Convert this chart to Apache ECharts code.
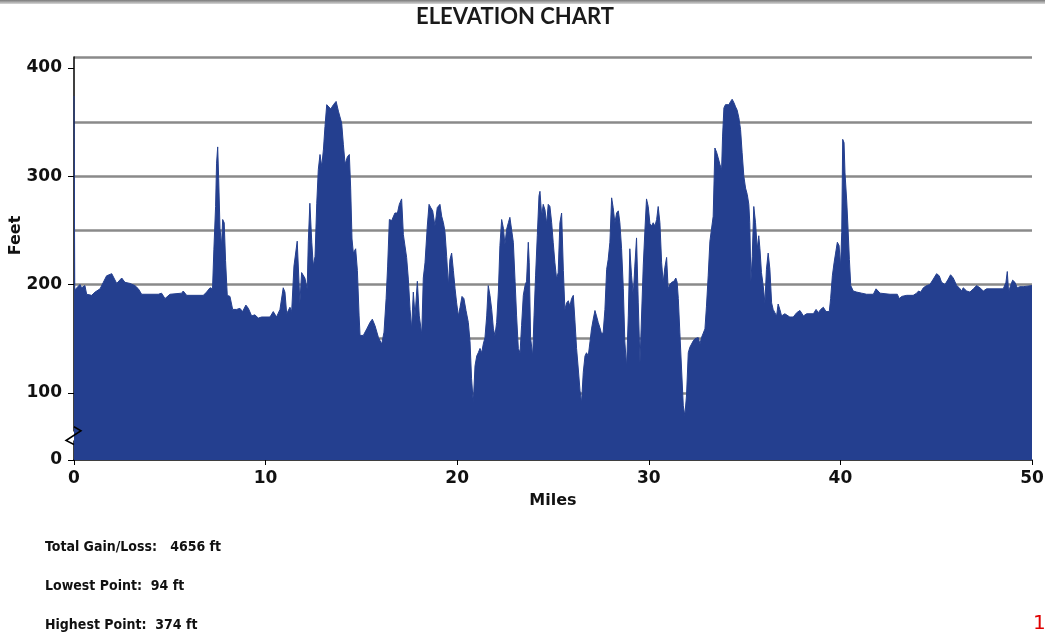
<!DOCTYPE html>
<html>
<head>
<meta charset="utf-8">
<title>Elevation Chart</title>
<script src="https://cdn.jsdelivr.net/npm/echarts@6.0.0/dist/echarts.min.js"></script>
<style>
  html, body { margin: 0; padding: 0; background: #fff; }
  #chart { width: 1045px; height: 643px; }
</style>
</head>
<body>
<div id="chart"></div>
<script>
// elevation profile: distance (miles) and height (feet)
const miles = [
  0, 0.04, 0.10, 0.31, 0.40, 0.57, 0.66, 0.92, 1.10, 1.36, 1.53, 1.70, 1.97, 2.23, 2.49, 2.66, 2.92, 3.18, 3.36, 3.53,
  4.40, 4.57, 4.75, 5.01, 5.62, 5.70, 5.88, 6.75, 6.92, 7.10, 7.23, 7.30, 7.39, 7.44, 7.50, 7.55, 7.62, 7.70, 7.76, 7.84,
  7.91, 8.00, 8.14, 8.28, 8.49, 8.66, 8.80, 8.97, 9.10, 9.27, 9.44, 9.62, 9.79, 10.23, 10.40, 10.57, 10.75, 10.92, 11.01, 11.10,
  11.18, 11.27, 11.36, 11.48, 11.58, 11.65, 11.72, 11.79, 11.88, 11.97, 12.05, 12.17, 12.23, 12.31, 12.41, 12.49, 12.58, 12.67, 12.75, 12.84,
  12.93, 13.02, 13.10, 13.19, 13.28, 13.40, 13.54, 13.68, 13.80, 13.97, 14.06, 14.15, 14.27, 14.37, 14.44, 14.51, 14.58, 14.70, 14.79, 14.88,
  14.93, 15.10, 15.28, 15.45, 15.57, 15.71, 15.89, 16.06, 16.18, 16.29, 16.37, 16.46, 16.58, 16.75, 16.88, 16.98, 17.10, 17.19, 17.36, 17.45,
  17.54, 17.62, 17.71, 17.80, 17.92, 18.02, 18.15, 18.23, 18.32, 18.44, 18.53, 18.62, 18.72, 18.84, 18.96, 19.10, 19.19, 19.28, 19.36, 19.45,
  19.54, 19.62, 19.71, 19.80, 19.89, 19.97, 20.06, 20.15, 20.25, 20.35, 20.46, 20.58, 20.67, 20.75, 20.84, 20.93, 21.02, 21.10, 21.19, 21.28,
  21.36, 21.45, 21.54, 21.62, 21.71, 21.80, 21.89, 21.97, 22.06, 22.15, 22.23, 22.32, 22.41, 22.49, 22.58, 22.67, 22.75, 22.84, 22.93, 23.02,
  23.10, 23.19, 23.28, 23.36, 23.45, 23.54, 23.62, 23.71, 23.76, 23.83, 23.94, 24.01, 24.09, 24.18, 24.27, 24.32, 24.41, 24.49, 24.58, 24.67,
  24.75, 24.84, 24.93, 25.01, 25.10, 25.19, 25.27, 25.36, 25.45, 25.54, 25.62, 25.71, 25.80, 25.88, 25.97, 26.06, 26.14, 26.23, 26.32, 26.41,
  26.49, 26.58, 26.67, 26.75, 26.84, 26.93, 27.01, 27.10, 27.19, 27.27, 27.36, 27.45, 27.54, 27.62, 27.71, 27.80, 27.88, 27.97, 28.06, 28.14,
  28.23, 28.32, 28.41, 28.49, 28.58, 28.67, 28.75, 28.84, 28.93, 29.01, 29.10, 29.19, 29.27, 29.36, 29.45, 29.54, 29.62, 29.71, 29.80, 29.88,
  29.97, 30.06, 30.14, 30.23, 30.32, 30.41, 30.49, 30.58, 30.67, 30.75, 30.84, 30.93, 31.01, 31.10, 31.19, 31.31, 31.41, 31.48, 31.54, 31.62,
  31.71, 31.80, 31.88, 31.97, 32.06, 32.14, 32.23, 32.32, 32.41, 32.49, 32.58, 32.67, 32.75, 32.84, 32.93, 33.01, 33.10, 33.19, 33.27, 33.36,
  33.45, 33.54, 33.62, 33.71, 33.80, 33.85, 33.92, 34.00, 34.09, 34.18, 34.27, 34.35, 34.44, 34.53, 34.61, 34.70, 34.79, 34.87, 34.96, 35.05,
  35.14, 35.22, 35.27, 35.33, 35.40, 35.48, 35.57, 35.66, 35.74, 35.80, 35.88, 35.97, 36.06, 36.14, 36.23, 36.32, 36.41, 36.49, 36.58, 36.67,
  36.75, 36.84, 36.93, 37.01, 37.10, 37.19, 37.36, 37.54, 37.72, 37.89, 38.07, 38.24, 38.59, 38.73, 38.85, 38.97, 39.11, 39.25, 39.42, 39.49,
  39.58, 39.67, 39.75, 39.84, 39.93, 40.01, 40.07, 40.12, 40.19, 40.24, 40.33, 40.40, 40.47, 40.54, 40.67, 40.85, 41.11, 41.37, 41.72, 41.86,
  41.96, 42.07, 42.59, 42.97, 43.07, 43.20, 43.46, 43.80, 43.98, 44.08, 44.19, 44.33, 44.50, 44.67, 44.85, 45.02, 45.16, 45.28, 45.46, 45.63,
  45.75, 45.89, 46.07, 46.20, 46.33, 46.41, 46.59, 46.76, 46.94, 47.11, 47.28, 47.46, 47.63, 48.50, 48.64, 48.71, 48.78, 48.88, 48.99, 49.11,
  49.23, 49.37, 49.54, 50.00
];
const feet = [
  374, 195, 195, 200, 197, 199, 191, 190, 193, 196, 202, 208, 210, 201, 206, 202, 201, 199, 196, 191,
  191, 192, 187, 191, 192, 194, 190, 190, 193, 197, 196, 232, 272, 312, 327, 298, 252, 236, 260, 257,
  222, 190, 189, 177, 177, 178, 175, 181, 178, 171, 172, 169, 170, 170, 175, 170, 177, 197, 193, 173,
  172, 179, 175, 217, 217, 240, 240, 183, 211, 211, 206, 196, 240, 275, 239, 217, 226, 275, 306, 320,
  309, 325, 346, 366, 366, 362, 366, 369, 360, 349, 329, 311, 318, 320, 289, 242, 229, 233, 213, 171,
  153, 153, 159, 165, 168, 162, 151, 145, 156, 187, 217, 260, 259, 266, 266, 274, 279, 246, 225, 205,
  177, 159, 193, 171, 203, 171, 154, 206, 220, 254, 274, 271, 268, 254, 271, 274, 263, 257, 249, 226,
  199, 223, 229, 213, 196, 183, 171, 179, 189, 187, 176, 165, 147, 113, 91, 125, 134, 137, 141, 137,
  145, 151, 171, 199, 190, 177, 159, 153, 165, 194, 236, 260, 252, 237, 251, 257, 262, 263, 239, 203,
  171, 141, 137, 162, 190, 199, 203, 239, 220, 151, 134, 171, 208, 245, 282, 286, 263, 274, 269, 256,
  274, 272, 257, 239, 220, 205, 211, 257, 266, 213, 177, 183, 185, 180, 187, 190, 168, 141, 122, 102,
  91, 119, 134, 137, 134, 147, 159, 168, 176, 171, 165, 160, 154, 156, 177, 214, 223, 239, 280, 271,
  257, 266, 268, 257, 233, 196, 147, 124, 171, 233, 208, 190, 217, 243, 183, 128, 128, 217, 251, 279,
  272, 256, 254, 257, 254, 260, 272, 257, 220, 202, 216, 225, 196, 200, 202, 203, 206, 202, 187, 156,
  122, 88, 79, 98, 137, 142, 145, 148, 150, 151, 151, 145, 151, 151, 159, 180, 208, 240, 239, 263,
  326, 322, 317, 311, 306, 337, 363, 366, 367, 366, 369, 371, 368, 364, 361, 354, 343, 322, 300, 289,
  283, 274, 257, 203, 226, 272, 257, 233, 245, 233, 211, 199, 183, 214, 229, 214, 183, 177, 174, 171,
  182, 177, 171, 170, 173, 173, 170, 170, 174, 176, 171, 173, 173, 177, 174, 177, 179, 175, 175, 187,
  208, 220, 229, 239, 236, 217, 248, 334, 331, 303, 277, 251, 223, 199, 194, 193, 192, 191, 191, 196,
  197, 192, 191, 191, 187, 189, 190, 190, 192, 194, 193, 197, 199, 200, 205, 210, 208, 202, 200, 205,
  209, 206, 199, 197, 194, 197, 194, 193, 196, 199, 197, 194, 196, 196, 202, 212, 193, 199, 204, 202,
  197, 198, 198, 199
];
const yLabelValues = [0, 100, 200, 300, 400];
const yGridValues = [100, 150, 200, 250, 300, 350, 410];
const yBreak = [18, 65];
const summary = ["Total Gain/Loss:   4656 ft", "Lowest Point:  94 ft", "Highest Point:  374 ft"];

let myChart = echarts.init(document.getElementById("chart"));

let seriesData = miles.map((m, i) => [m, feet[i]]);
let blue = "#243f8f";
let labelFont = {
  color: "#111",
  fontFamily: "DejaVu Sans",
  fontWeight: "bold",
  fontSize: 17,
};

let yBase = {
  type: "value",
  min: 0,
  max: 410,
  breaks: [{ start: yBreak[0], end: yBreak[1], gap: 9 }],
  breakArea: { show: false },
};

let option = {
  animation: false,
  title: {
    text: "ELEVATION CHART",
    left: 411,
    top: 1,
    textStyle: {
      color: "#1a1a1a",
      fontFamily: "Lato",
      fontWeight: "bold",
      fontSize: 22,
    },
  },
  grid: {
    left: 74,
    right: 13,
    top: 57,
    bottom: 183,
    outerBoundsMode: "none",
    containLabel: false,
  },
  xAxis: {
    type: "value",
    min: 0,
    max: 50,
    interval: 10,
    name: "Miles",
    nameLocation: "middle",
    nameGap: 33,
    nameTextStyle: Object.assign({}, labelFont, { fontSize: 16 }),
    axisLine: { lineStyle: { color: "#000", width: 1.5 } },
    axisTick: { length: 5, lineStyle: { color: "#000" } },
    axisLabel: Object.assign({ margin: 10 }, labelFont),
    splitLine: { show: false },
  },
  yAxis: [
    Object.assign({}, yBase, {
      name: "Feet",
      nameLocation: "middle",
      nameGap: 50,
      nameMoveOverlap: false,
      nameTextStyle: Object.assign({}, labelFont, { fontSize: 16, padding: [0, 0, 0, 46] }),
      axisLine: { show: true, lineStyle: { color: "#000", width: 1.5 } },
      axisTick: { show: true, length: 6, customValues: yLabelValues, lineStyle: { color: "#000" } },
      axisLabel: Object.assign({ margin: 12, customValues: yLabelValues }, labelFont),
      splitLine: { show: false },
    }),
    // second axis only carries the grey grid lines
    Object.assign({}, yBase, {
      position: "left",
      axisLine: { show: false },
      axisTick: { show: false, customValues: yGridValues },
      axisLabel: { show: false },
      splitLine: { show: true, lineStyle: { color: "#8a8a8a", width: 2.5 } },
    }),
  ],
  graphic: [
    {
      type: "rect",
      left: 0,
      top: 0,
      shape: { width: 1045, height: 4 },
      style: {
        fill: new echarts.graphic.LinearGradient(0, 0, 0, 1, [
          { offset: 0, color: "#7a7a7a" },
          { offset: 1, color: "#d8d8d8" },
        ]),
      },
    },
    {
      type: "text",
      left: 1033,
      top: 614,
      style: { text: "1", fill: "#e00000", font: "20px 'DejaVu Sans'" },
    },
  ].concat(
    summary.map((t, i) => ({
      type: "text",
      left: 45,
      top: 540 + i * 39,
      style: {
        text: t,
        fill: "#111",
        font: "bold 14px 'Liberation Sans Narrow', 'DejaVu Sans Condensed', sans-serif",
      },
    }))
  ),
  series: [
    {
      name: "Elevation",
      type: "line",
      yAxisIndex: 0,
      data: seriesData,
      symbol: "none",
      sampling: null,
      lineStyle: { color: blue, width: 1 },
      areaStyle: { color: blue, opacity: 1 },
      z: 3,
    },
  ],
};

myChart.setOption(option);

// little zigzag on the y axis where the scale is broken
let pLow = myChart.convertToPixel({ gridIndex: 0 }, [0, yBreak[0]]);
let pHigh = myChart.convertToPixel({ gridIndex: 0 }, [0, yBreak[1]]);
if (pLow && pHigh) {
  let x0 = pLow[0];
  let yl = pLow[1];
  let yh = pHigh[1];
  myChart.setOption({
    graphic: option.graphic.concat([
      {
        type: "polyline",
        z: 50,
        shape: {
          points: [
            [x0, yl + 4],
            [x0 - 8, yl],
            [x0 + 7, yh],
            [x0, yh - 4],
          ],
        },
        style: { stroke: "#000", lineWidth: 1.5, fill: null },
      },
    ]),
  });
}
</script>
</body>
</html>
